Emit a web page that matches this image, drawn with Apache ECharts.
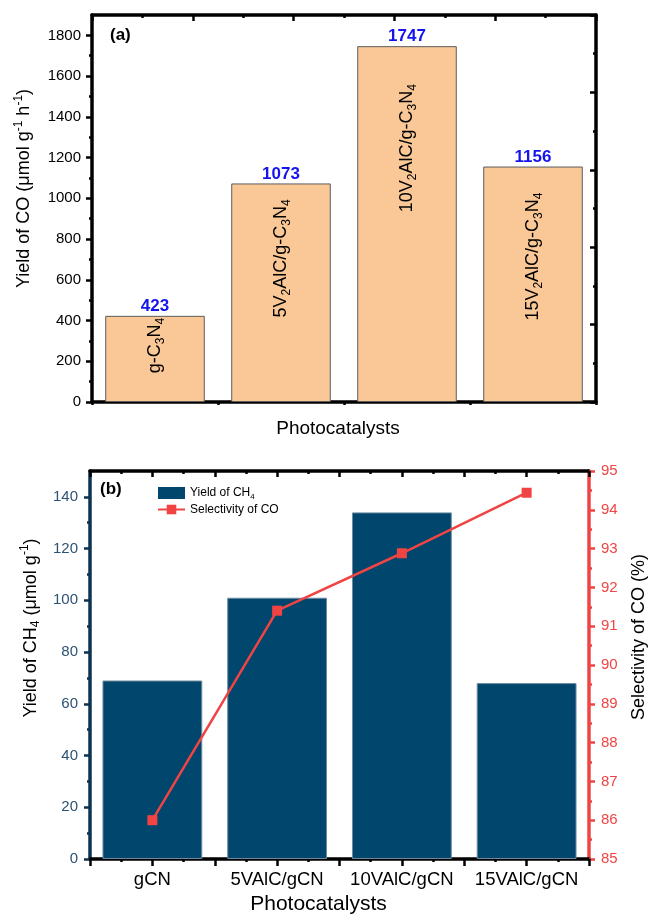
<!DOCTYPE html>
<html><head><meta charset="utf-8">
<script src="https://cdn.jsdelivr.net/npm/echarts@6/dist/echarts.min.js"></script>
<style>html,body{margin:0;padding:0;background:#fff}#c{width:656px;height:916px}</style>
</head><body><div id="c"></div>
<script>
// ---------- data ----------
const catA = ['g-C3N4', '5V2AlC/g-C3N4', '10V2AlC/g-C3N4', '15V2AlC/g-C3N4'];
const coYield = [423, 1073, 1747, 1156];
const yTicksA = [0, 200, 400, 600, 800, 1000, 1200, 1400, 1600, 1800];
const yMinorA = [100, 300, 500, 700, 900, 1100, 1300, 1500, 1700];

const catB = ['gCN', '5VAlC/gCN', '10VAlC/gCN', '15VAlC/gCN'];
const ch4Yield = [69, 101, 134, 68];
const coSelectivity = [86.0, 91.4, 92.88, 94.44];
const yTicksB = [0, 20, 40, 60, 80, 100, 120, 140];
const yMinorB = [10, 30, 50, 70, 90, 110, 130];

// ---------- layout (label drop inside bars, px) ----------
const labelDrop = [2, 16, 38, 26];

const FF = '"Liberation Sans", Arial, sans-serif';
const BLACK = '#000';
const NAVY = '#0d3352';
const NAVYTXT = '#2c5274';
const RED = '#f04444';

function rt(s) { return '{n|' + s.replace(/([A-Za-z])(\d+)/g, '$1}{sb|$2}{n|') + '}'; }
function richSet(size, color) {
  return {
    n: { fontSize: size, lineHeight: Math.round(size * 1.25), verticalAlign: 'middle', color: color, fontFamily: FF },
    sb: { fontSize: Math.round(size * 0.68), lineHeight: Math.round(size * 0.68), verticalAlign: 'bottom', color: color, fontFamily: FF },
    sp: { fontSize: Math.round(size * 0.68), lineHeight: Math.round(size * 0.68), verticalAlign: 'top', color: color, fontFamily: FF }
  };
}

const thick = 3.5;
function line(color) { return { show: true, onZero: false, lineStyle: { color: color, width: thick } }; }
function hiddenVal(grid, pos, min, max, extra) {
  return Object.assign({
    type: 'value', gridIndex: grid, position: pos, min: min, max: max,
    axisLine: { show: false, onZero: false }, axisLabel: { show: false },
    splitLine: { show: false }, minorSplitLine: { show: false }
  }, extra);
}

const chart = echarts.init(document.getElementById('c'), null, { renderer: 'canvas' });
const option = {
  backgroundColor: '#fff',
  animation: false,
  textStyle: { fontFamily: FF },
  grid: [
    { left: 92, top: 15, width: 504, height: 387 },
    { left: 90, top: 471, width: 502, height: 389 }
  ],
  graphic: [
    { type: 'text', left: 110, top: 27, style: { text: '(a)', font: 'bold 17px ' + FF, fill: '#000' } },
    { type: 'text', left: 100, top: 481, style: { text: '(b)', font: 'bold 17px ' + FF, fill: '#000' } }
  ],
  legend: {
    left: 157, top: 487, orient: 'vertical', itemGap: 3, itemWidth: 27, itemHeight: 12, padding: 0,
    data: [{ name: 'Yield of CH4', icon: 'rect', itemStyle: { borderWidth: 0 } }, { name: 'Selectivity of CO' }],
    formatter: n => rt(n),
    textStyle: { fontSize: 12, color: '#000', rich: richSet(12, '#000') }
  },
  xAxis: [
    { type: 'category', gridIndex: 0, data: catA, position: 'bottom',
      axisLine: line(BLACK),
      axisTick: { alignWithLabel: true, length: 7, lineStyle: { color: BLACK, width: 2.5 } },
      axisLabel: { show: false },
      name: 'Photocatalysts', nameLocation: 'middle', nameGap: 17,
      nameTextStyle: { fontSize: 19, color: BLACK, fontFamily: FF, padding: [0, 12, 0, 0] } },
    hiddenVal(0, 'bottom', 0, 4, { interval: 1, axisTick: { length: 3, lineStyle: { color: BLACK, width: 2.5 } } }),
    hiddenVal(0, 'top', 0, 10, { interval: 2,
      axisLine: line(BLACK),
      axisTick: { inside: true, length: 6, lineStyle: { color: BLACK, width: 2.5 } },
      minorTick: { show: true, splitNumber: 2, length: 3, lineStyle: { color: BLACK, width: 2.5 } } }),
    { type: 'category', gridIndex: 1, data: catB, position: 'bottom',
      axisLine: line(BLACK),
      axisTick: { show: false },
      axisLabel: { interval: 0, fontSize: 18.5, color: BLACK, margin: 11, fontFamily: FF },
      name: 'Photocatalysts', nameLocation: 'middle', nameGap: 35,
      nameTextStyle: { fontSize: 21, color: BLACK, fontFamily: FF, padding: [0, 42, 0, 0] } },
    hiddenVal(1, 'bottom', 0, 8, { interval: 1,
      axisTick: { length: 7, lineStyle: { color: BLACK, width: 2.5 } },
      minorTick: { show: true, splitNumber: 2, length: 3, lineStyle: { color: BLACK, width: 2.5 } } }),
    hiddenVal(1, 'top', 0, 8, { interval: 1,
      axisLine: line(BLACK),
      axisTick: { inside: true, length: 6, lineStyle: { color: BLACK, width: 2.5 } },
      minorTick: { show: true, splitNumber: 2, length: 3, lineStyle: { color: BLACK, width: 2.5 } } })
  ],
  yAxis: [
    { type: 'value', gridIndex: 0, position: 'left', min: 0, max: 1900,
      axisLine: line(BLACK),
      axisTick: { show: true, customValues: yTicksA, length: 6, lineStyle: { color: BLACK, width: 2.5 } },
      axisLabel: { customValues: yTicksA, formatter: v => String(v), fontSize: 15, color: BLACK, margin: 11, fontFamily: FF },
      splitLine: { show: false },
      name: '{n|Yield of CO (μmol g}{sp|-1}{n| h}{sp|-1}{n|)}', nameLocation: 'middle', nameGap: 56, nameRotate: 90,
      nameTextStyle: { padding: [0, 0, 0, 40], rich: richSet(18, BLACK) } },
    hiddenVal(0, 'left', 0, 1900, { axisTick: { show: true, customValues: yMinorA, length: 3, lineStyle: { color: BLACK, width: 2.5 } } }),
    hiddenVal(0, 'right', 0, 10, { interval: 2,
      axisLine: line(BLACK),
      axisTick: { show: true, inside: true, length: 6, lineStyle: { color: BLACK, width: 2.5 } },
      minorTick: { show: true, splitNumber: 2, length: 3, lineStyle: { color: BLACK, width: 2.5 } } }),
    { type: 'value', gridIndex: 1, position: 'left', min: 0, max: 150,
      axisLine: line(NAVY),
      axisTick: { show: true, customValues: yTicksB, length: 6, lineStyle: { color: NAVY, width: 2.5 } },
      axisLabel: { customValues: yTicksB, formatter: v => String(v), fontSize: 15, color: NAVYTXT, margin: 12, fontFamily: FF },
      splitLine: { show: false },
      name: '{n|Yield of CH}{sb|4}{n| (μmol g}{sp|-1}{n|)}', nameLocation: 'middle', nameGap: 42, nameRotate: 90,
      nameTextStyle: { padding: [0, 0, 0, 74], rich: richSet(18, BLACK) } },
    hiddenVal(1, 'left', 0, 150, { axisTick: { show: true, customValues: yMinorB, length: 3, lineStyle: { color: NAVY, width: 2.5 } } }),
    { type: 'value', gridIndex: 1, position: 'right', min: 85, max: 95, interval: 1,
      axisLine: line(RED),
      axisTick: { show: true, length: 6, lineStyle: { color: RED, width: 2.5 } },
      minorTick: { show: true, splitNumber: 2, length: 3, lineStyle: { color: RED, width: 2.5 } },
      axisLabel: { fontSize: 15, color: RED, margin: 12, fontFamily: FF },
      splitLine: { show: false }, minorSplitLine: { show: false },
      name: 'Selectivity of CO (%)', nameLocation: 'middle', nameGap: 41, nameRotate: 90,
      nameTextStyle: { fontSize: 18, color: BLACK, fontFamily: FF, padding: [0, 0, 0, 56] } }
  ],
  series: [
    { type: 'bar', name: 'CO yield', xAxisIndex: 0, yAxisIndex: 0, barWidth: '79%', barGap: '-100%',
      data: coYield.map((v, i) => ({ value: v, label: { distance: labelDrop[i] } })),
      itemStyle: { color: '#f9c896', borderColor: '#5c5c5c', borderWidth: 1 },
      label: { show: true, position: 'insideTop', rotate: 90, align: 'right', verticalAlign: 'middle',
        formatter: p => rt(catA[p.dataIndex]), rich: richSet(18, BLACK) } },
    { type: 'bar', name: 'CO value', xAxisIndex: 0, yAxisIndex: 0, barWidth: '79%', barGap: '-100%',
      data: coYield, silent: true,
      itemStyle: { color: 'rgba(0,0,0,0)' },
      label: { show: true, position: 'top', distance: 1, color: '#1414ee', fontWeight: 'bold', fontSize: 17, fontFamily: FF } },
    { type: 'bar', name: 'Yield of CH4', xAxisIndex: 3, yAxisIndex: 3, barWidth: '80%',
      data: ch4Yield,
      itemStyle: { color: '#01466d', borderColor: '#6f8aa0', borderWidth: 1 } },
    { type: 'line', name: 'Selectivity of CO', xAxisIndex: 3, yAxisIndex: 5,
      data: coSelectivity, symbol: 'rect', symbolSize: 10,
      lineStyle: { color: RED, width: 2.5 }, itemStyle: { color: RED } }
  ]
};
chart.setOption(option);
</script>
</body></html>
